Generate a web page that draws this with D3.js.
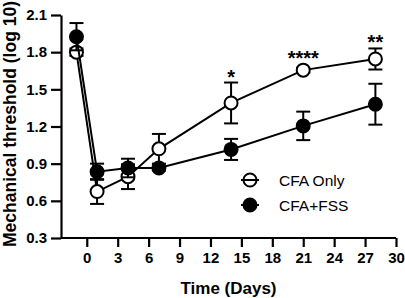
<!DOCTYPE html>
<html>
<head>
<meta charset="utf-8">
<script src="https://cdn.jsdelivr.net/npm/d3@7"></script>
<style>
  body { margin: 0; background: #fff; }
  text { font-family: Arial, "Liberation Sans", sans-serif; }
</style>
</head>
<body>
<div id="chart"></div>
<script>
// days measured
var days = [-1, 1, 4, 7, 14, 21, 28];

// CFA only group: mean and SEM
var cfaMean = [1.80, 0.675, 0.795, 1.02, 1.39, 1.655, 1.745];
var cfaErr  = [0.03, 0.10, 0.10, 0.12, 0.165, 0.02, 0.085];

// CFA+FSS group
var fssMean = [1.925, 0.835, 0.865, 0.865, 1.015, 1.205, 1.38];
var fssErr  = [0.11, 0.065, 0.075, 0.02, 0.085, 0.115, 0.165];

// significance marks above CFA only
var sigDays  = [14, 21, 28];
var sigMarks = ["*", "****", "**"];

var xTicks = [0, 3, 6, 9, 12, 15, 18, 21, 24, 27, 30];
var yTicks = [0.3, 0.6, 0.9, 1.2, 1.5, 1.8, 2.1];

var legendNames = ["CFA Only", "CFA+FSS"];

var W = 405, H = 298;
var margin = {top: 15, left: 61, right: 9, bottom: 60};

var svg = d3.select('#chart').append('svg')
  .attr('width', W).attr('height', H);

var x = d3.scaleLinear().domain([-2.5, 30]).range([margin.left, W - margin.right]);
var y = d3.scaleLinear().domain([0.3, 2.1]).range([H - margin.bottom, margin.top]);

// axes
var xAxis = svg.append('g')
  .attr('transform', 'translate(0,' + y(0.3) + ')')
  .call(d3.axisBottom(x).tickValues(xTicks).tickSize(9).tickPadding(5).tickSizeOuter(0));
var yAxis = svg.append('g')
  .attr('transform', 'translate(' + x(-2.5) + ',0)')
  .call(d3.axisLeft(y).tickValues(yTicks).tickSize(10).tickPadding(4).tickFormat(d3.format('.1f')).tickSizeOuter(0));

[xAxis, yAxis].forEach(function(a) {
  a.select('.domain').attr('stroke', '#000').attr('stroke-width', 2.2);
  a.selectAll('.tick line').attr('stroke', '#000').attr('stroke-width', 2.2);
  a.selectAll('.tick text').attr('fill', '#000')
    .style('font-size', '15px').style('font-weight', 'bold');
});
// extend x axis line to the y axis
xAxis.select('.domain').attr('d', 'M' + x(-2.5) + ',0H' + x(30));

// axis titles
svg.append('text')
  .attr('x', (x(-2.5) + x(30)) / 2)
  .attr('y', 294)
  .attr('text-anchor', 'middle')
  .style('font-size', '17px').style('font-weight', 'bold')
  .text('Time (Days)');

svg.append('text')
  .attr('transform', 'translate(16,124) rotate(-90)')
  .attr('text-anchor', 'middle')
  .style('font-size', '17.5px').style('font-weight', 'bold')
  .text('Mechanical threshold (log 10)');

var line = d3.line().x(function(d) { return x(d.day); }).y(function(d) { return y(d.mean); });

function makeSeries(mean, err) {
  return days.map(function(d, i) { return {day: d, mean: mean[i], err: err[i]}; });
}

var series = [
  {data: makeSeries(cfaMean, cfaErr), fill: '#fff'},
  {data: makeSeries(fssMean, fssErr), fill: '#000'}
];

var capW = 7;

series.forEach(function(s) {
  var g = svg.append('g');
  g.append('path')
    .datum(s.data)
    .attr('d', line)
    .attr('fill', 'none')
    .attr('stroke', '#000')
    .attr('stroke-width', 2);

  var eb = g.selectAll('.err').data(s.data).enter().append('g');
  eb.append('line')
    .attr('x1', function(d) { return x(d.day); }).attr('x2', function(d) { return x(d.day); })
    .attr('y1', function(d) { return y(d.mean - d.err); })
    .attr('y2', function(d) { return y(d.mean + d.err); })
    .attr('stroke', '#000').attr('stroke-width', 2);
  [1, -1].forEach(function(sg) {
    eb.append('line')
      .attr('x1', function(d) { return x(d.day) - capW; })
      .attr('x2', function(d) { return x(d.day) + capW; })
      .attr('y1', function(d) { return y(d.mean + sg * d.err); })
      .attr('y2', function(d) { return y(d.mean + sg * d.err); })
      .attr('stroke', '#000').attr('stroke-width', 2);
  });

  g.selectAll('circle').data(s.data).enter().append('circle')
    .attr('cx', function(d) { return x(d.day); })
    .attr('cy', function(d) { return y(d.mean); })
    .attr('r', 6.5)
    .attr('fill', s.fill)
    .attr('stroke', '#000')
    .attr('stroke-width', 2);
});

// significance stars
svg.selectAll('.sig').data(sigDays).enter().append('text')
  .attr('x', function(d) { return x(d); })
  .attr('y', function(d, i) {
    var k = days.indexOf(d);
    return y(cfaMean[k] + Math.max(cfaErr[k], 0.05)) + 1;
  })
  .attr('text-anchor', 'middle')
  .style('font-size', '20px').style('font-weight', 'bold')
  .text(function(d, i) { return sigMarks[i]; });

// legend (line drawn over the marker, so it shows through the open circle)
var legend = svg.selectAll('.legend').data(legendNames).enter().append('g')
  .attr('transform', function(d, i) { return 'translate(250,' + (180 + i * 25) + ')'; });
legend.append('circle')
  .attr('r', 6.5)
  .attr('fill', function(d, i) { return series[i].fill; })
  .attr('stroke', '#000').attr('stroke-width', 2);
legend.append('line')
  .attr('x1', -9).attr('x2', 9)
  .attr('stroke', '#000').attr('stroke-width', 2);
legend.append('text')
  .attr('x', 29).attr('y', 5.5)
  .style('font-size', '15.5px')
  .text(function(d) { return d; });
</script>
</body>
</html>
